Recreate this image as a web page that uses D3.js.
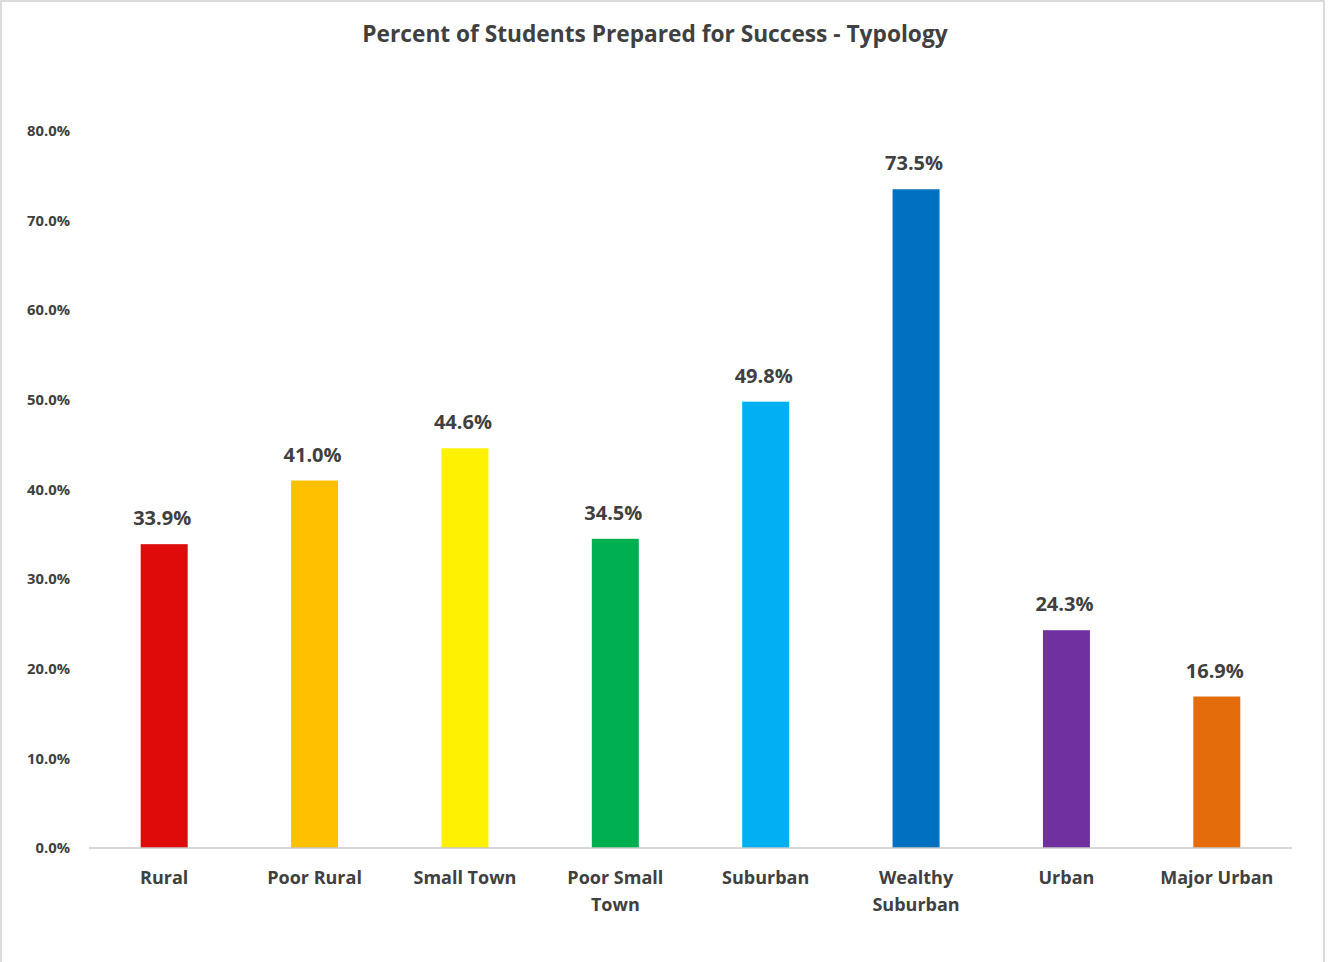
<!DOCTYPE html>
<html>
<head>
<meta charset="utf-8">
<script src="https://cdn.jsdelivr.net/npm/d3@7"></script>
<style>
  body { margin: 0; background: #fff; }
  text { font-family: "Open Sans", "Liberation Sans", sans-serif; font-weight: bold; fill: #404040; }
</style>
</head>
<body>
<div id="chart"></div>
<script>

  var categories = [["Rural"], ["Poor Rural"], ["Small Town"], ["Poor Small", "Town"],
                    ["Suburban"], ["Wealthy", "Suburban"], ["Urban"], ["Major Urban"]];
  var values = [33.9, 41.0, 44.6, 34.5, 49.8, 73.5, 24.3, 16.9];
  var colors = ["#DF0A0A", "#FFC000", "#FFF200", "#00B050", "#00B0F0", "#0070C0", "#7030A0", "#E46C0A"];
  var yTicks = [0, 10, 20, 30, 40, 50, 60, 70, 80];

  var width = 1328, height = 962;
  var margin = { top: 131, right: 36, bottom: 114, left: 89 };

  var svg = d3.select("#chart").append("svg")
    .attr("width", width)
    .attr("height", height);

  // outer frame
  svg.append("rect")
    .attr("x", 1).attr("y", 1)
    .attr("width", 1323).attr("height", 966)
    .attr("fill", "none")
    .attr("stroke", "#d0d0d0")
    .attr("stroke-width", 1.5);

  svg.append("text")
    .attr("x", 655).attr("y", 42)
    .attr("text-anchor", "middle")
    .style("font-size", "22.7px")
    .text("Percent of Students Prepared for Success - Typology");

  var x = d3.scaleBand()
    .domain(d3.range(categories.length))
    .range([margin.left, width - margin.right])
    .paddingInner(0.6875)
    .paddingOuter(0.34375);

  var y = d3.scaleLinear()
    .domain([0, 80])
    .range([height - margin.bottom, margin.top]);

  // y axis labels, no line
  svg.append("g")
    .selectAll("text")
    .data(yTicks)
    .enter()
    .append("text")
    .attr("x", 70)
    .attr("y", function(d) { return y(d); })
    .attr("dy", "0.35em")
    .attr("text-anchor", "end")
    .style("font-size", "14.8px")
    .text(function(d) { return d.toFixed(1) + "%"; });

  svg.selectAll(".bar")
    .data(values)
    .enter()
    .append("rect")
    .attr("class", "bar")
    .attr("x", function(d, i) { return x(i); })
    .attr("y", function(d) { return y(d); })
    .attr("width", x.bandwidth())
    .attr("height", function(d) { return y(0) - y(d); })
    .attr("fill", function(d, i) { return colors[i]; });

  svg.append("line")
    .attr("x1", margin.left).attr("x2", width - margin.right)
    .attr("y1", y(0)).attr("y2", y(0))
    .attr("stroke", "#c8c8c8")
    .attr("stroke-width", 1.5);

  svg.selectAll(".val")
    .data(values)
    .enter()
    .append("text")
    .attr("class", "val")
    .attr("x", function(d, i) { return x(i) + x.bandwidth() / 2 - 2; })
    .attr("y", function(d) { return y(d) - 19; })
    .attr("text-anchor", "middle")
    .style("font-size", "20px")
    .text(function(d) { return d.toFixed(1) + "%"; });

  var cat = svg.selectAll(".cat")
    .data(categories)
    .enter()
    .append("text")
    .attr("class", "cat")
    .attr("text-anchor", "middle")
    .style("font-size", "18px");

  cat.selectAll("tspan")
    .data(function(d, i) { return d.map(function(s) { return { s: s, i: i }; }); })
    .enter()
    .append("tspan")
    .attr("x", function(d) { return x(d.i) + x.bandwidth() / 2; })
    .attr("y", function(d, j) { return y(0) + 36 + j * 27; })
    .text(function(d) { return d.s; });

</script>
</body>
</html>
